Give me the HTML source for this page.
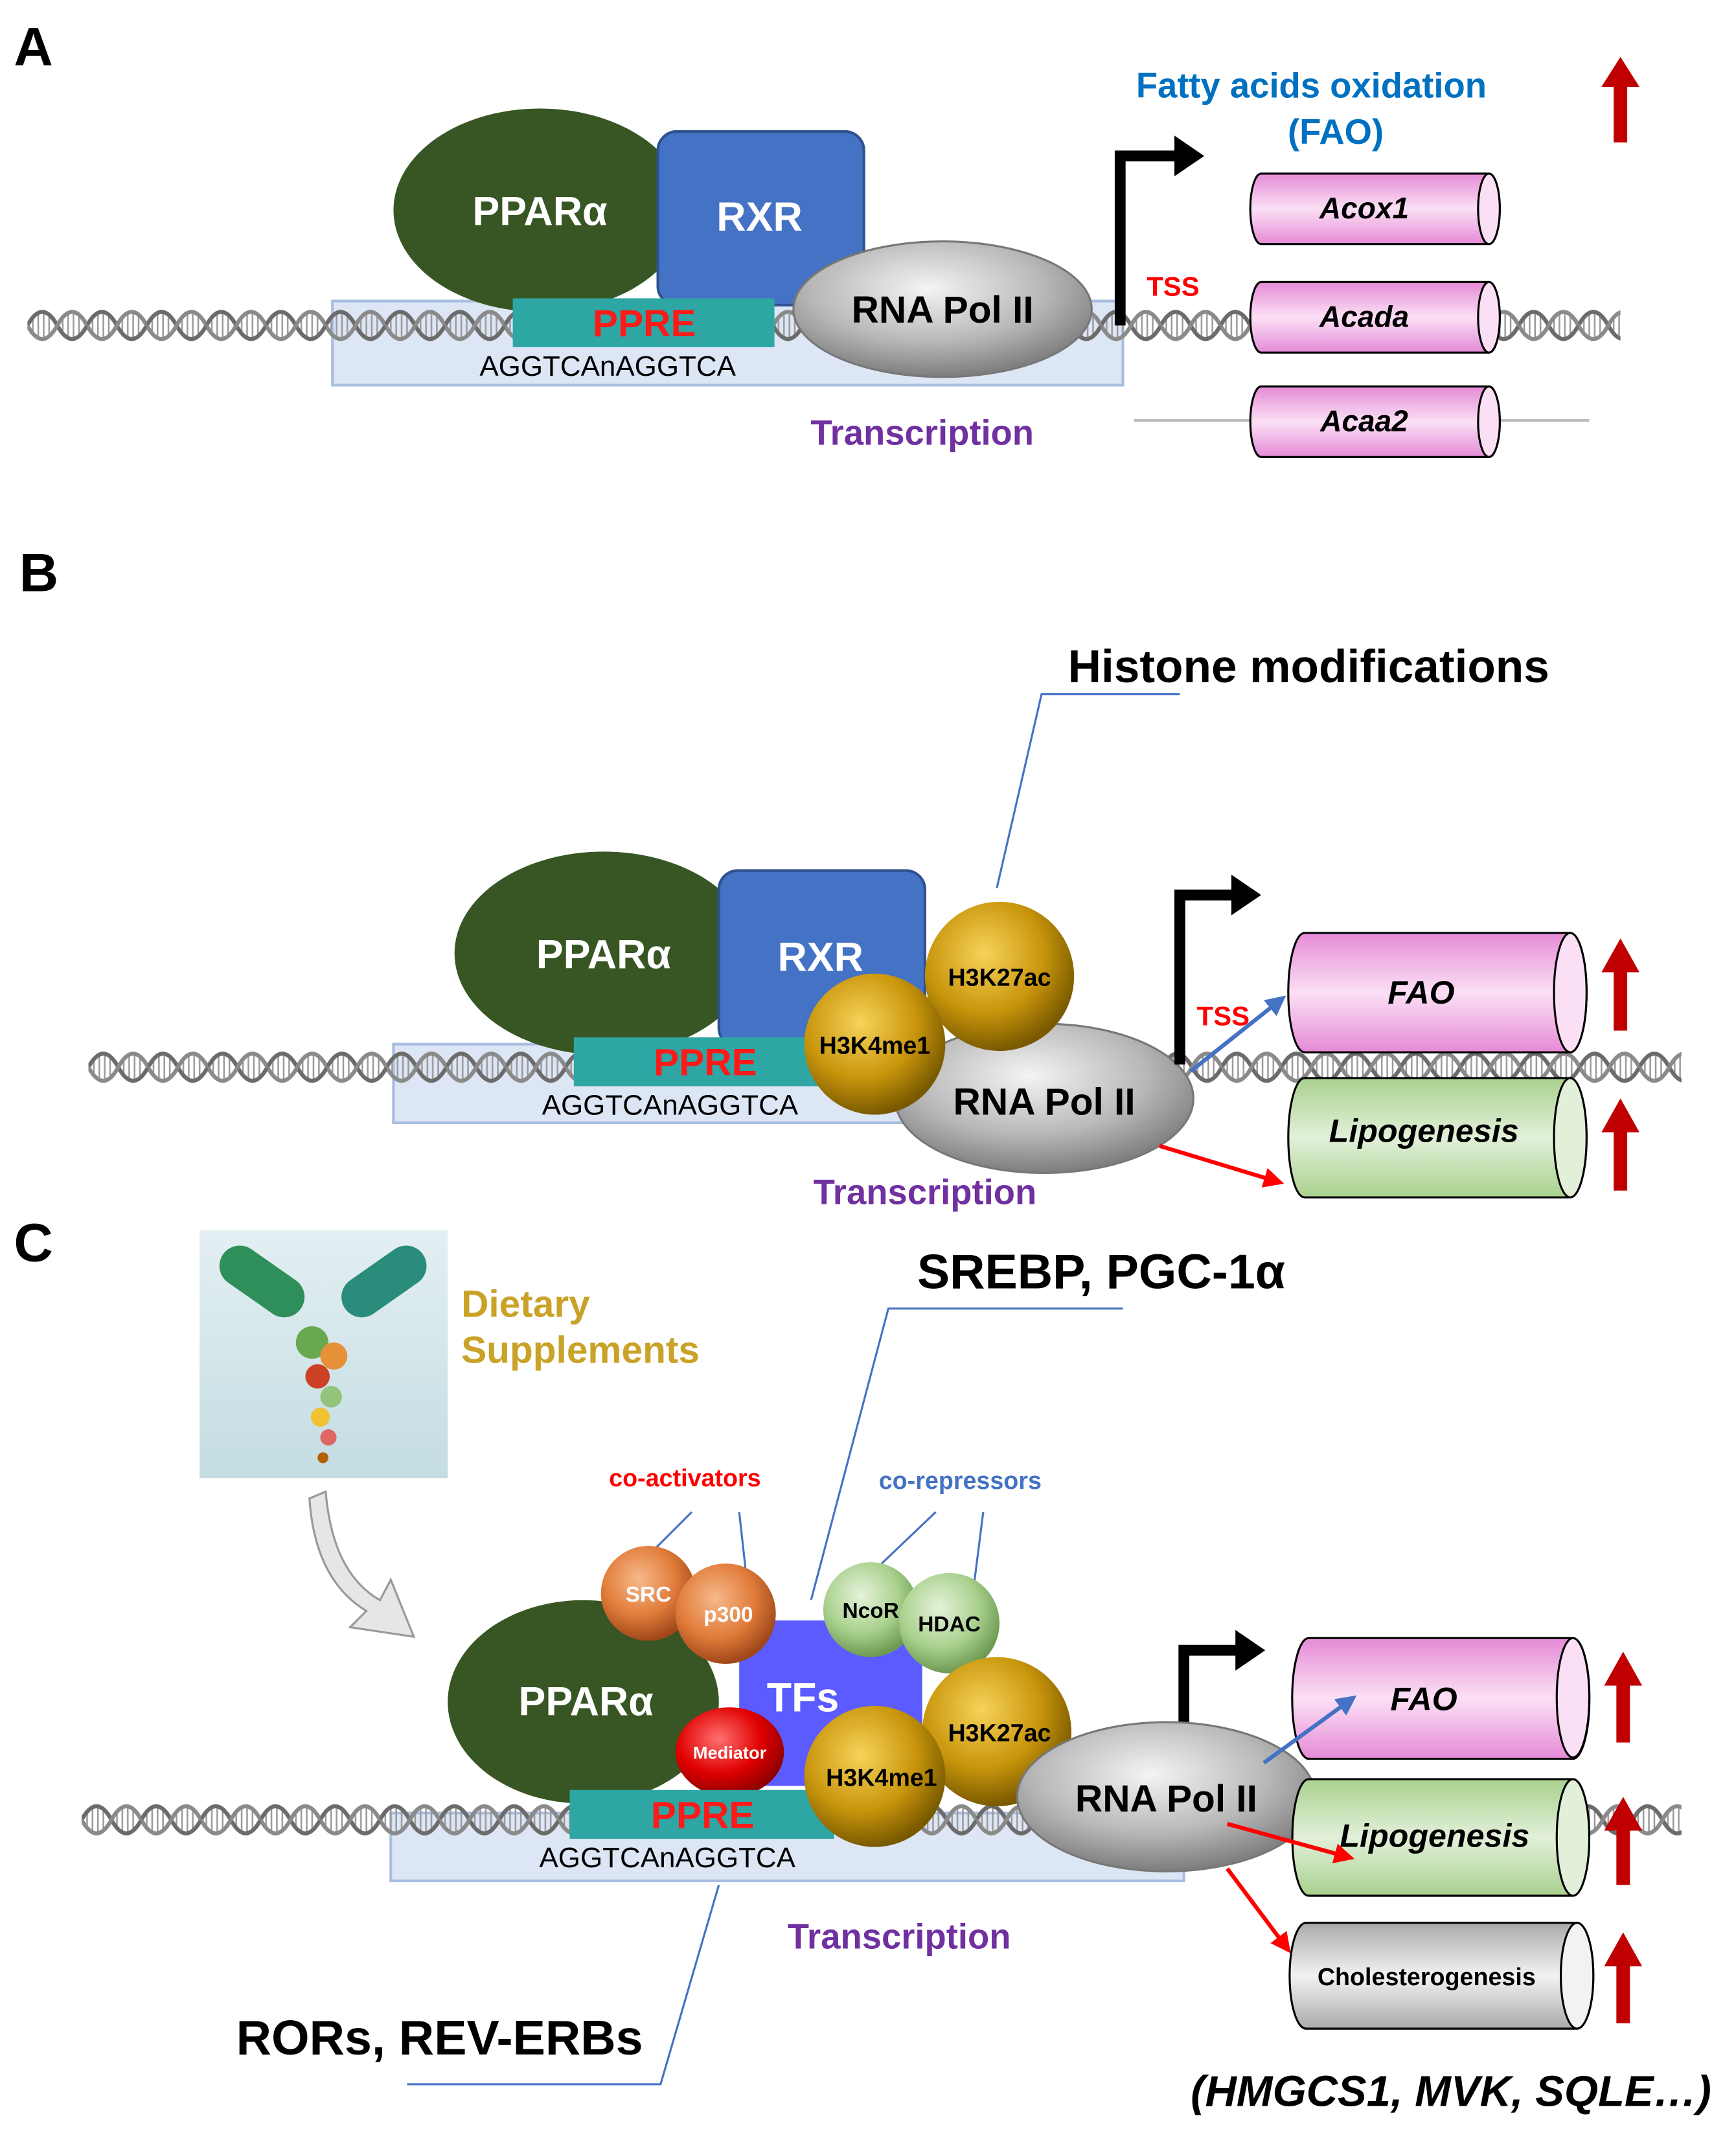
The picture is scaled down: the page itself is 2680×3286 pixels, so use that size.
<!DOCTYPE html>
<html><head><meta charset="utf-8"><style>
html,body{margin:0;padding:0;background:#fff;}
svg{display:block;}
text{font-family:"Liberation Sans",Arial,sans-serif;}
</style></head><body>
<svg width="2680" height="3286" viewBox="0 0 1280 1570" xmlns="http://www.w3.org/2000/svg">
<defs>
<pattern id="dna" x="0" y="0" width="44" height="28" patternUnits="userSpaceOnUse">
<g stroke="#9a9a9a" stroke-width="1.2">
<line x1="4" y1="8" x2="4" y2="20"/><line x1="8" y1="5" x2="8" y2="23"/><line x1="12" y1="4" x2="12" y2="24"/><line x1="16" y1="6" x2="16" y2="22"/>
<line x1="26" y1="8" x2="26" y2="20"/><line x1="30" y1="5" x2="30" y2="23"/><line x1="34" y1="4" x2="34" y2="24"/><line x1="38" y1="6" x2="38" y2="22"/>
</g>
<path d="M0,14 Q11,-6 22,14 T44,14" fill="none" stroke="#6b6b6b" stroke-width="3"/>
<path d="M0,14 Q11,34 22,14 T44,14" fill="none" stroke="#8a8a8a" stroke-width="3"/>
</pattern>
<radialGradient id="gray" cx="45%" cy="35%" r="65%"><stop offset="0" stop-color="#f4f4f4"/><stop offset="0.6" stop-color="#b8b8b8"/><stop offset="1" stop-color="#7d7d7d"/></radialGradient>
<radialGradient id="gold" cx="40%" cy="35%" r="65%"><stop offset="0" stop-color="#f6d35a"/><stop offset="0.6" stop-color="#c9960c"/><stop offset="1" stop-color="#7a5a00"/></radialGradient>
<radialGradient id="orange" cx="40%" cy="35%" r="65%"><stop offset="0" stop-color="#f7b98a"/><stop offset="0.6" stop-color="#e07b39"/><stop offset="1" stop-color="#a0481a"/></radialGradient>
<radialGradient id="lgreen" cx="40%" cy="35%" r="65%"><stop offset="0" stop-color="#e6f2da"/><stop offset="0.6" stop-color="#a9d18e"/><stop offset="1" stop-color="#6e9a52"/></radialGradient>
<radialGradient id="red" cx="40%" cy="35%" r="65%"><stop offset="0" stop-color="#ff7070"/><stop offset="0.6" stop-color="#e00000"/><stop offset="1" stop-color="#900000"/></radialGradient>
<linearGradient id="pink" x1="0" y1="0" x2="0" y2="1"><stop offset="0" stop-color="#e58ad6"/><stop offset="0.5" stop-color="#fbe0f5"/><stop offset="1" stop-color="#e58ad6"/></linearGradient>
<linearGradient id="green" x1="0" y1="0" x2="0" y2="1"><stop offset="0" stop-color="#a9d18e"/><stop offset="0.5" stop-color="#e2f0d9"/><stop offset="1" stop-color="#a9d18e"/></linearGradient>
<linearGradient id="grayc" x1="0" y1="0" x2="0" y2="1"><stop offset="0" stop-color="#aaaaaa"/><stop offset="0.5" stop-color="#f2f2f2"/><stop offset="1" stop-color="#aaaaaa"/></linearGradient>
<linearGradient id="sky" x1="0" y1="0" x2="0" y2="1"><stop offset="0" stop-color="#e4eff2"/><stop offset="1" stop-color="#c3dde2"/></linearGradient>
<marker id="ab" viewBox="0 0 10 10" refX="8" refY="5" markerWidth="5" markerHeight="5" orient="auto"><path d="M0,0 L10,5 L0,10 z" fill="#4472c4"/></marker>
<marker id="ar" viewBox="0 0 10 10" refX="8" refY="5" markerWidth="5" markerHeight="5" orient="auto"><path d="M0,0 L10,5 L0,10 z" fill="#ff0000"/></marker>
</defs>

<!-- ===== Panel A ===== -->
<text x="10" y="48" font-size="40" font-weight="bold">A</text>
<rect x="245" y="222" width="583" height="62" fill="#dde6f5" stroke="#a9bde0" stroke-width="2"/>
<g transform="translate(20,226)"><rect x="0" y="0" width="1175" height="28" fill="url(#dna)"/></g>
<ellipse cx="398" cy="155" rx="108" ry="75" fill="#375623"/>
<text x="398" y="166" font-size="30" font-weight="bold" fill="#fff" text-anchor="middle">PPARα</text>
<rect x="485" y="97" width="152" height="128" rx="14" fill="#4472c4" stroke="#2f528f" stroke-width="2"/>
<text x="560" y="170" font-size="30" font-weight="bold" fill="#fff" text-anchor="middle">RXR</text>
<rect x="378" y="220" width="193" height="36" fill="#2ea6a3"/>
<text x="475" y="248" font-size="28" font-weight="bold" fill="#ff1a1a" text-anchor="middle">PPRE</text>
<text x="448" y="277" font-size="21" text-anchor="middle">AGGTCAnAGGTCA</text>
<ellipse cx="695" cy="228" rx="110" ry="50" fill="url(#gray)" stroke="#777" stroke-width="1.5"/>
<text x="695" y="238" font-size="28" font-weight="bold" text-anchor="middle">RNA Pol II</text>
<path d="M826,240 V115 H868" fill="none" stroke="#000" stroke-width="8"/>
<path d="M866,100 L888,115 L866,130 z" fill="#000"/>
<text x="865" y="218" font-size="20" font-weight="bold" fill="#ff0000" text-anchor="middle">TSS</text>
<text x="967" y="72" font-size="26" font-weight="bold" fill="#0070c0" text-anchor="middle">Fatty acids oxidation</text>
<text x="985" y="106" font-size="26" font-weight="bold" fill="#0070c0" text-anchor="middle">(FAO)</text>
<path d="M1190,105 V64 H1181 L1195,42 L1209,64 H1200 V105 z" fill="#c00000"/>
<line x1="836" y1="310" x2="1172" y2="310" stroke="#bbb" stroke-width="2"/>
<g stroke="#000" stroke-width="1.5">
<path d="M930,128 H1098 A8,26 0 0 1 1098,180 H930 A8,26 0 0 1 930,128 z" fill="url(#pink)"/>
<ellipse cx="1098" cy="154" rx="8" ry="26" fill="#fbe0f5"/>
<path d="M930,208 H1098 A8,26 0 0 1 1098,260 H930 A8,26 0 0 1 930,208 z" fill="url(#pink)"/>
<ellipse cx="1098" cy="234" rx="8" ry="26" fill="#fbe0f5"/>
<path d="M930,285 H1098 A8,26 0 0 1 1098,337 H930 A8,26 0 0 1 930,285 z" fill="url(#pink)"/>
<ellipse cx="1098" cy="311" rx="8" ry="26" fill="#fbe0f5"/>
</g>
<g font-size="22" font-weight="bold" font-style="italic" text-anchor="middle">
<text x="1006" y="161">Acox1</text><text x="1006" y="241">Acada</text><text x="1006" y="318">Acaa2</text>
</g>
<text x="680" y="328" font-size="26" font-weight="bold" fill="#7030a0" text-anchor="middle">Transcription</text>

<!-- ===== Panel B ===== -->
<text x="14" y="436" font-size="40" font-weight="bold">B</text>
<text x="965" y="503" font-size="34" font-weight="bold" text-anchor="middle">Histone modifications</text>
<path d="M870,512 H768 L735,655" fill="none" stroke="#4472c4" stroke-width="1.5"/>
<rect x="290" y="770" width="390" height="58" fill="#dde6f5" stroke="#a9bde0" stroke-width="2"/>
<g transform="translate(65,773)"><rect x="0" y="0" width="1175" height="28" fill="url(#dna)"/></g>
<ellipse cx="445" cy="703" rx="110" ry="75" fill="#375623"/>
<text x="445" y="714" font-size="30" font-weight="bold" fill="#fff" text-anchor="middle">PPARα</text>
<rect x="530" y="642" width="152" height="130" rx="14" fill="#4472c4" stroke="#2f528f" stroke-width="2"/>
<text x="605" y="716" font-size="30" font-weight="bold" fill="#fff" text-anchor="middle">RXR</text>
<rect x="423" y="765" width="195" height="36" fill="#2ea6a3"/>
<text x="520" y="793" font-size="28" font-weight="bold" fill="#ff1a1a" text-anchor="middle">PPRE</text>
<text x="494" y="822" font-size="21" text-anchor="middle">AGGTCAnAGGTCA</text>
<ellipse cx="770" cy="810" rx="110" ry="55" fill="url(#gray)" stroke="#777" stroke-width="1.5"/>
<text x="770" y="822" font-size="28" font-weight="bold" text-anchor="middle">RNA Pol II</text>
<circle cx="737" cy="720" r="55" fill="url(#gold)"/>
<text x="737" y="727" font-size="18" font-weight="bold" text-anchor="middle">H3K27ac</text>
<circle cx="645" cy="770" r="52" fill="url(#gold)"/>
<text x="645" y="777" font-size="18" font-weight="bold" text-anchor="middle">H3K4me1</text>
<path d="M870,785 V660 H910" fill="none" stroke="#000" stroke-width="8"/>
<path d="M908,645 L930,660 L908,675 z" fill="#000"/>
<text x="902" y="756" font-size="20" font-weight="bold" fill="#ff0000" text-anchor="middle">TSS</text>
<g stroke="#000" stroke-width="1.5">
<path d="M962,688 H1158 A12,44 0 0 1 1158,776 H962 A12,44 0 0 1 962,688 z" fill="url(#pink)"/>
<ellipse cx="1158" cy="732" rx="12" ry="44" fill="#fbe0f5"/>
<path d="M962,795 H1158 A12,44 0 0 1 1158,883 H962 A12,44 0 0 1 962,795 z" fill="url(#green)"/>
<ellipse cx="1158" cy="839" rx="12" ry="44" fill="#e2f0d9"/>
</g>
<text x="1048" y="740" font-size="24" font-weight="bold" font-style="italic" text-anchor="middle">FAO</text>
<text x="1050" y="842" font-size="24" font-weight="bold" font-style="italic" text-anchor="middle">Lipogenesis</text>
<line x1="878" y1="790" x2="946" y2="736" stroke="#4472c4" stroke-width="3" marker-end="url(#ab)"/>
<line x1="855" y1="845" x2="944" y2="872" stroke="#ff0000" stroke-width="3" marker-end="url(#ar)"/>
<path d="M1190,760 V717 H1181 L1195,692 L1209,717 H1200 V760 z" fill="#c00000"/>
<path d="M1190,878 V835 H1181 L1195,810 L1209,835 H1200 V878 z" fill="#c00000"/>
<text x="682" y="888" font-size="26" font-weight="bold" fill="#7030a0" text-anchor="middle">Transcription</text>

<!-- ===== Panel C ===== -->
<text x="10" y="930" font-size="40" font-weight="bold">C</text>
<rect x="147" y="907" width="183" height="183" fill="url(#sky)"/>
<g transform="translate(238,990)">
<rect x="-80" y="-60" width="70" height="30" rx="15" fill="#2f8f5a" transform="rotate(35 -45 -45)"/>
<rect x="10" y="-60" width="70" height="30" rx="15" fill="#2a8c7a" transform="rotate(-35 45 -45)"/>
<circle cx="-8" cy="0" r="12" fill="#6aa84f"/><circle cx="8" cy="10" r="10" fill="#e69138"/><circle cx="-4" cy="25" r="9" fill="#cc4125"/><circle cx="6" cy="40" r="8" fill="#93c47d"/><circle cx="-2" cy="55" r="7" fill="#f1c232"/><circle cx="4" cy="70" r="6" fill="#e06666"/><circle cx="0" cy="85" r="4" fill="#b45f06"/>
</g>
<text x="340" y="971" font-size="28" font-weight="bold" fill="#c9a227">Dietary</text>
<text x="340" y="1005" font-size="28" font-weight="bold" fill="#c9a227">Supplements</text>
<path d="M240,1100 Q245,1160 280,1180 L288,1165 L305,1207 L258,1200 L270,1188 Q232,1165 228,1105 z" fill="#e6e6e6" stroke="#999" stroke-width="1.5"/>
<text x="812" y="950" font-size="36" font-weight="bold" text-anchor="middle">SREBP, PGC-1α</text>
<path d="M828,965 H655 L598,1180" fill="none" stroke="#4472c4" stroke-width="1.5"/>
<text x="505" y="1096" font-size="18" font-weight="bold" fill="#ff0000" text-anchor="middle">co-activators</text>
<path d="M510,1115 L480,1145 M545,1115 L550,1160" stroke="#4472c4" stroke-width="1.5"/>
<text x="708" y="1098" font-size="18" font-weight="bold" fill="#4472c4" text-anchor="middle">co-repressors</text>
<path d="M690,1115 L648,1155 M725,1115 L718,1170" stroke="#4472c4" stroke-width="1.5"/>
<rect x="288" y="1337" width="585" height="50" fill="#dde6f5" stroke="#a9bde0" stroke-width="2"/>
<g transform="translate(60,1328)"><rect x="0" y="0" width="1180" height="28" fill="url(#dna)"/></g>
<rect x="545" y="1195" width="135" height="122" fill="#5b5bff"/>
<text x="592" y="1262" font-size="30" font-weight="bold" fill="#fff" text-anchor="middle">TFs</text>
<ellipse cx="430" cy="1255" rx="100" ry="75" fill="#375623"/>
<text x="432" y="1265" font-size="30" font-weight="bold" fill="#fff" text-anchor="middle">PPARα</text>
<circle cx="478" cy="1175" r="35" fill="url(#orange)"/>
<text x="478" y="1181" font-size="16" font-weight="bold" fill="#fff" text-anchor="middle">SRC</text>
<circle cx="535" cy="1190" r="37" fill="url(#orange)"/>
<text x="537" y="1196" font-size="16" font-weight="bold" fill="#fff" text-anchor="middle">p300</text>
<circle cx="642" cy="1187" r="35" fill="url(#lgreen)"/>
<text x="642" y="1193" font-size="16" font-weight="bold" text-anchor="middle">NcoR</text>
<circle cx="700" cy="1197" r="37" fill="url(#lgreen)"/>
<text x="700" y="1203" font-size="16" font-weight="bold" text-anchor="middle">HDAC</text>
<ellipse cx="538" cy="1292" rx="40" ry="33" fill="url(#red)"/>
<text x="538" y="1297" font-size="13" font-weight="bold" fill="#fff" text-anchor="middle">Mediator</text>
<rect x="420" y="1320" width="195" height="36" fill="#2ea6a3"/>
<text x="518" y="1348" font-size="28" font-weight="bold" fill="#ff1a1a" text-anchor="middle">PPRE</text>
<text x="492" y="1377" font-size="21" text-anchor="middle">AGGTCAnAGGTCA</text>
<circle cx="735" cy="1277" r="55" fill="url(#gold)"/>
<text x="737" y="1284" font-size="18" font-weight="bold" text-anchor="middle">H3K27ac</text>
<circle cx="645" cy="1310" r="52" fill="url(#gold)"/>
<text x="650" y="1317" font-size="18" font-weight="bold" text-anchor="middle">H3K4me1</text>
<path d="M873,1270 V1217 H913" fill="none" stroke="#000" stroke-width="8"/>
<path d="M911,1202 L933,1217 L911,1232 z" fill="#000"/>
<ellipse cx="860" cy="1325" rx="110" ry="55" fill="url(#gray)" stroke="#777" stroke-width="1.5"/>
<text x="860" y="1336" font-size="28" font-weight="bold" text-anchor="middle">RNA Pol II</text>
<g stroke="#000" stroke-width="1.5">
<path d="M965,1208 H1160 A12,44 0 0 1 1160,1297 H965 A12,44 0 0 1 965,1208 z" fill="url(#pink)"/>
<ellipse cx="1160" cy="1252" rx="12" ry="44" fill="#fbe0f5"/>
<path d="M965,1312 H1160 A12,43 0 0 1 1160,1398 H965 A12,43 0 0 1 965,1312 z" fill="url(#green)"/>
<ellipse cx="1160" cy="1355" rx="12" ry="43" fill="#e2f0d9"/>
<path d="M963,1418 H1163 A12,39 0 0 1 1163,1496 H963 A12,39 0 0 1 963,1418 z" fill="url(#grayc)"/>
<ellipse cx="1163" cy="1457" rx="12" ry="39" fill="#f2f2f2"/>
</g>
<text x="1050" y="1261" font-size="24" font-weight="bold" font-style="italic" text-anchor="middle">FAO</text>
<text x="1058" y="1362" font-size="24" font-weight="bold" font-style="italic" text-anchor="middle">Lipogenesis</text>
<text x="1052" y="1464" font-size="18" font-weight="bold" text-anchor="middle">Cholesterogenesis</text>
<line x1="932" y1="1300" x2="998" y2="1252" stroke="#4472c4" stroke-width="3" marker-end="url(#ab)"/>
<line x1="905" y1="1345" x2="996" y2="1370" stroke="#ff0000" stroke-width="3" marker-end="url(#ar)"/>
<line x1="905" y1="1378" x2="950" y2="1438" stroke="#ff0000" stroke-width="3" marker-end="url(#ar)"/>
<path d="M1192,1285 V1243 H1183 L1197,1218 L1211,1243 H1202 V1285 z" fill="#c00000"/>
<path d="M1192,1390 V1350 H1183 L1197,1325 L1211,1350 H1202 V1390 z" fill="#c00000"/>
<path d="M1192,1492 V1450 H1183 L1197,1425 L1211,1450 H1202 V1492 z" fill="#c00000"/>
<text x="663" y="1437" font-size="26" font-weight="bold" fill="#7030a0" text-anchor="middle">Transcription</text>
<text x="324" y="1515" font-size="36" font-weight="bold" text-anchor="middle">RORs, REV-ERBs</text>
<path d="M300,1537 H487 L530,1390" fill="none" stroke="#4472c4" stroke-width="1.5"/>
<text x="1070" y="1553" font-size="32" font-weight="bold" font-style="italic" text-anchor="middle">(HMGCS1, MVK, SQLE…)</text>
</svg>
</body></html>
